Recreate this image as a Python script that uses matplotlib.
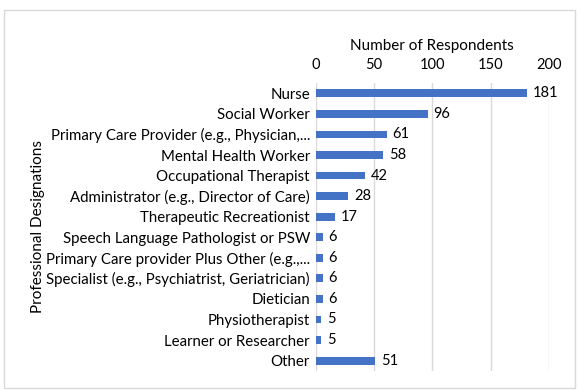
import matplotlib.pyplot as plt
from matplotlib.patches import Rectangle

# ===== DADOS =====
categorias = [
    "Nurse",
    "Social Worker",
    "Primary Care Provider (e.g., Physician,...",
    "Mental Health Worker",
    "Occupational Therapist",
    "Administrator (e.g., Director of Care)",
    "Therapeutic Recreationist",
    "Speech Language Pathologist or PSW",
    "Primary Care provider Plus Other (e.g.,...",
    "Specialist (e.g., Psychiatrist, Geriatrician)",
    "Dietician",
    "Physiotherapist",
    "Learner or Researcher",
    "Other",
]
respondentes = [181, 96, 61, 58, 42, 28, 17, 6, 6, 6, 6, 5, 5, 51]
ticks_x = [0, 50, 100, 150, 200]

plt.rcParams['font.family'] = ['Lato', 'DejaVu Sans']

fig = plt.figure(figsize=(5.79, 3.90), dpi=100)
ax = fig.add_axes([0.545, 0.049, 0.403, 0.738])

pos = list(range(len(categorias)))
ax.barh(pos, respondentes, height=0.38, color='#4472C4', zorder=3)
for p, v in zip(pos, respondentes):
    ax.text(v + 5, p, str(v), va='center', ha='left', fontsize=10.5, color='black')

ax.set_ylim(len(categorias) - 0.5, -0.5)
ax.set_xlim(0, 200)
ax.set_yticks(pos)
ax.set_yticklabels(categorias, fontsize=10.8)
ax.set_xticks(ticks_x)
ax.xaxis.tick_top()
ax.xaxis.set_label_position('top')
ax.tick_params(axis='x', labelsize=10.5, length=0, pad=8)
ax.tick_params(axis='y', length=0, pad=4)
ax.set_xlabel('Number of Respondents', fontsize=11, labelpad=6)
ax.grid(axis='x', color='#d9d9d9', lw=1, zorder=0)
for s in ax.spines.values():
    s.set_visible(False)

fig.text(0.066, 0.418, 'Professional Designations', rotation=90, ha='center', va='center', fontsize=11)

# borda do gráfico
fig.patches.append(Rectangle((0.007, 0.005), 0.986, 0.97, transform=fig.transFigure,
                             fill=False, edgecolor='#d9d9d9', lw=1))

plt.savefig("out.png", dpi=100)
